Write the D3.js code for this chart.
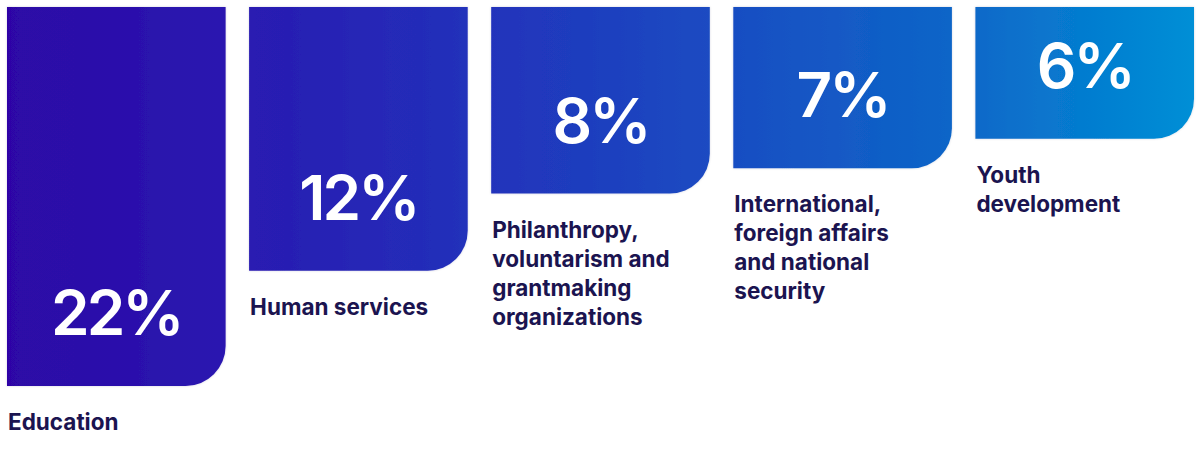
<!DOCTYPE html>
<html>
<head>
<meta charset="utf-8">
<script src="https://cdn.jsdelivr.net/npm/d3@7"></script>
<style>
  html, body { margin: 0; padding: 0; background: #ffffff; }
  svg { display: block; }
</style>
</head>
<body>
<svg id="chart" width="1200" height="473"></svg>
<script>
// ---- data ----
const categories = ["Education", "Human services", "Philanthropy, voluntarism and grantmaking organizations", "International, foreign affairs and national security", "Youth development"];
const values = [22, 12, 8, 7, 6];
const valueLabels = ["22%", "12%", "8%", "7%", "6%"];
const labelLines = [
  ["Education"],
  ["Human services"],
  ["Philanthropy,", "voluntarism and", "grantmaking", "organizations"],
  ["International,", "foreign affairs", "and national", "security"],
  ["Youth", "development"]
];

// ---- layout ----
const topY = 7;
const svg = d3.select("#chart");

const x = d3.scaleBand().domain(categories).range([7, 1194]).paddingInner(0.097).paddingOuter(0);
const y = d3.scaleLog().domain([3, 22]).range([topY, 386]);

const defs = svg.append("defs");
const grad = defs.append("linearGradient")
  .attr("id", "barGrad").attr("gradientUnits", "userSpaceOnUse")
  .attr("x1", 7).attr("x2", 1194).attr("y1", 0).attr("y2", 0);
[[0, "#2d06a6"], [0.18, "#2a18b0"], [0.4, "#2232bb"], [0.6, "#1a4cc2"], [0.8, "#0c66c8"], [1, "#008fd6"]]
  .forEach(([o, c]) => grad.append("stop").attr("offset", o).attr("stop-color", c));

const filt = defs.append("filter").attr("id", "shadow")
  .attr("x", "-5%").attr("y", "-5%").attr("width", "110%").attr("height", "110%");
filt.append("feDropShadow").attr("dx", 0).attr("dy", 0).attr("stdDeviation", 1.2)
  .attr("flood-color", "#1a1446").attr("flood-opacity", 0.18);

const r = 40;
function barPath(d, i) {
  const x0 = x(categories[i]), x1 = x0 + x.bandwidth();
  const b = y(values[i]);
  const p = d3.path();
  p.moveTo(x0, topY);
  p.lineTo(x1, topY);
  p.lineTo(x1, b - r);
  p.arcTo(x1, b, x1 - r, b, r);
  p.lineTo(x0, b);
  p.closePath();
  return p.toString();
}

const g = svg.append("g");
g.selectAll("path.bar").data(values).join("path")
  .attr("class", "bar")
  .attr("d", barPath)
  .attr("fill", "url(#barGrad)")
  .attr("filter", "url(#shadow)");

g.selectAll("text.val").data(values).join("text")
  .attr("class", "val")
  .attr("x", (d, i) => x(categories[i]) + x.bandwidth() / 2)
  .attr("y", (d) => y(d) - 51)
  .attr("text-anchor", "middle")
  .attr("fill", "#ffffff")
  .attr("font-family", "Inter, 'Open Sans', sans-serif")
  .attr("font-weight", 600)
  .attr("font-size", 62)
  .attr("letter-spacing", -3)
  .text((d, i) => valueLabels[i]);

const lab = g.selectAll("text.lab").data(values).join("text")
  .attr("class", "lab")
  .attr("x", (d, i) => x(categories[i]) + 1)
  .attr("y", (d) => y(d) + 44)
  .attr("fill", "#1b1450")
  .attr("font-family", "Inter, 'Open Sans', sans-serif")
  .attr("font-weight", 700)
  .attr("font-size", 22.5);
lab.each(function (d, i) {
  const t = d3.select(this);
  labelLines[i].forEach((line, j) => {
    t.append("tspan")
      .attr("x", x(categories[i]) + 1)
      .attr("dy", j === 0 ? 0 : 29)
      .text(line);
  });
});
</script>
</body>
</html>
